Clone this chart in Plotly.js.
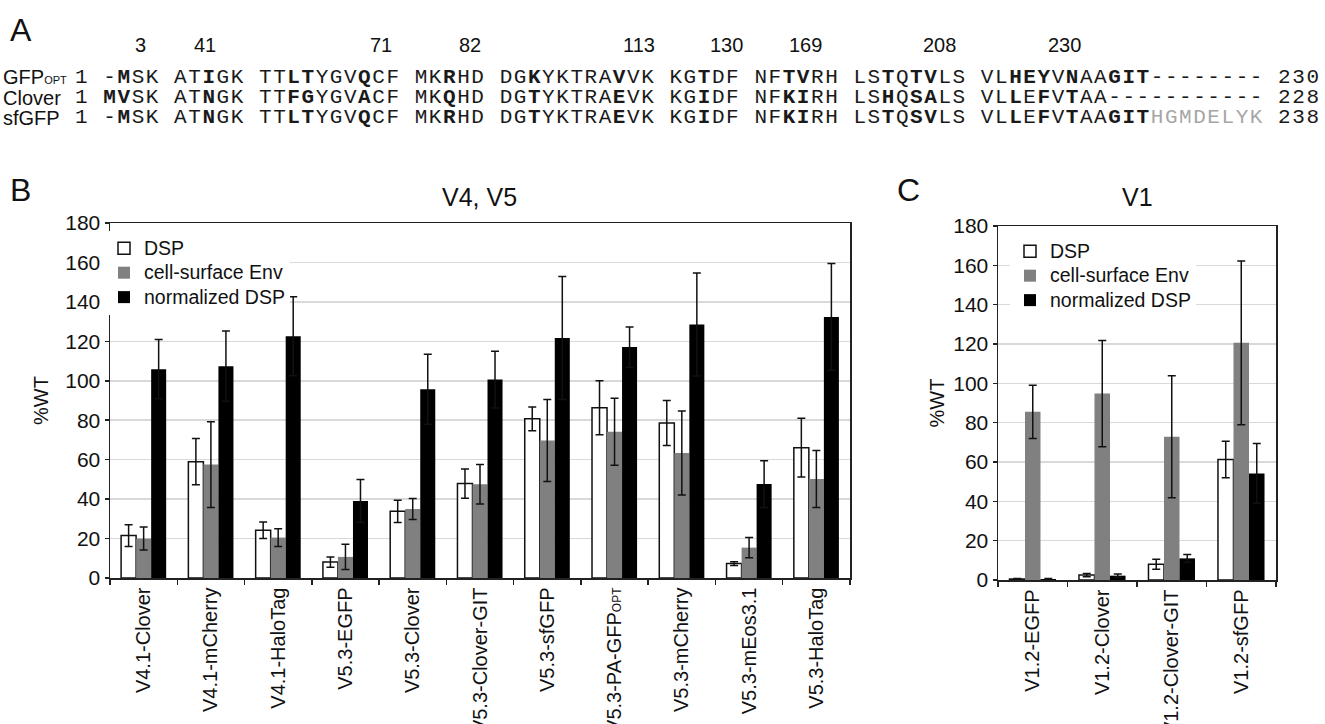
<!DOCTYPE html>
<html>
<head>
<meta charset="utf-8">
<script src="https://cdn.plot.ly/plotly-3.0.1.min.js"></script>
<style>
html,body{margin:0;padding:0;background:#fff;}
#chart{width:1325px;height:724px;}
/* monospace alignment rows: widen the advance to match the reference column pitch */
text[style*="Mono"]{letter-spacing:1.55px;}
</style>
</head>
<body>
<div id="chart"></div>
<script>
// ---------- Panel A: sequence alignment ----------
const seqNames = ['GFP<span style="font-size:11px">OPT</span>', 'Clover', 'sfGFP'];
const seqStarts = ['1', '1', '1'];
const seqTexts = [
  '-<b>M</b>SK AT<b>I</b>GK TT<b>LT</b>YGV<b>Q</b>CF MK<b>R</b>HD DG<b>K</b>YKTRA<b>V</b>VK KG<b>T</b>DF NF<b>TV</b>RH LS<b>T</b>Q<b>TV</b>LS VL<b>HEY</b>V<b>N</b>AA<b>GIT</b>--------',
  '<b>MV</b>SK AT<b>N</b>GK TT<b>FG</b>YGV<b>A</b>CF MK<b>Q</b>HD DG<b>T</b>YKTRA<b>E</b>VK KG<b>I</b>DF NF<b>KI</b>RH LS<b>H</b>Q<b>SA</b>LS VL<b>L</b>E<b>F</b>V<b>T</b>AA-----------',
  '-<b>M</b>SK AT<b>N</b>GK TT<b>LT</b>YGV<b>Q</b>CF MK<b>R</b>HD DG<b>T</b>YKTRA<b>E</b>VK KG<b>I</b>DF NF<b>KI</b>RH LS<b>T</b>Q<b>SV</b>LS VL<b>L</b>E<b>F</b>V<b>T</b>AA<b>GIT</b><span style="color:#a6a6a6">HGMDELYK</span>'
];
const seqEnds = ['230', '228', '238'];
const residueLabels = ['3', '41', '71', '82', '113', '130', '169', '208', '230'];
const residueLabelX = [140, 205, 381, 470, 639, 726, 806, 940, 1064];

// ---------- Panel B: V4, V5 ----------
const categoriesB = ['V4.1-Clover', 'V4.1-mCherry', 'V4.1-HaloTag', 'V5.3-EGFP', 'V5.3-Clover',
  'V5.3-Clover-GIT', 'V5.3-sfGFP', 'V5.3-PA-GFP<span style="font-size:12px">OPT</span>', 'V5.3-mCherry',
  'V5.3-mEos3.1', 'V5.3-HaloTag'];
const dspB = [21.5, 59, 24.2, 8.1, 33.8, 47.9, 80.7, 86.3, 78.6, 7.3, 66.1];
const dspErrB = [5.5, 11.7, 4.2, 2.6, 5.6, 7.4, 6, 13.7, 11.4, 1, 14.9];
const envB = [20, 57.5, 20.5, 10.7, 35, 47.5, 69.7, 74.2, 63.4, 15.4, 50.2];
const envErrB = [5.8, 21.7, 4.5, 6.4, 5.3, 10, 20.8, 17, 21.3, 5.1, 14.4];
const normB = [105.9, 107.4, 122.6, 39.1, 95.7, 100.6, 121.7, 117.1, 128.5, 47.6, 132.4];
const normErrB = [15, 17.8, 20, 10.8, 17.8, 14.4, 31.2, 10.2, 26.1, 11.9, 27.1];

// ---------- Panel C: V1 ----------
const categoriesC = ['V1.2-EGFP', 'V1.2-Clover', 'V1.2-Clover-GIT', 'V1.2-sfGFP'];
const dspC = [0.5, 2.5, 8, 61.3];
const dspErrC = [0.2, 0.8, 2.5, 9.3];
const envC = [85.5, 94.8, 72.8, 120.6];
const envErrC = [13.5, 27, 31, 41.6];
const normC = [0.5, 2.2, 11, 54.2];
const normErrC = [0.3, 0.8, 2, 15.2];

const seriesNames = ['DSP', 'cell-surface Env', 'normalized DSP'];

// ---------- build ----------
const W = 1325, H = 724;
const px = x => x / W;
const py = y => 1 - y / H;
const FONT = 'Liberation Sans, Arial, sans-serif';
const MONO = 'Liberation Mono, Courier New, monospace';
const legName = s => '<span style="font-size:19.5px">' + s + '</span>';

function errObj(arr) {
  return {type: 'data', array: arr, visible: true, color: '#111', thickness: 1.5, width: 4};
}
function makeTraces(cats, d, de, e, ee, n, ne, xa, ya, leg) {
  return [
    {type: 'bar', name: legName(seriesNames[0]), x: cats, y: d, error_y: errObj(de), xaxis: xa, yaxis: ya, legend: leg,
     marker: {color: '#ffffff', line: {color: '#111', width: 1.5}}},
    {type: 'bar', name: legName(seriesNames[1]), x: cats, y: e, error_y: errObj(ee), xaxis: xa, yaxis: ya, legend: leg,
     marker: {color: '#808080', line: {color: '#808080', width: 0}}},
    {type: 'bar', name: legName(seriesNames[2]), x: cats, y: n, error_y: errObj(ne), xaxis: xa, yaxis: ya, legend: leg,
     marker: {color: '#000000', line: {color: '#000', width: 0}}}
  ];
}

const data = [
  ...makeTraces(categoriesB, dspB, dspErrB, envB, envErrB, normB, normErrB, 'x', 'y', 'legend'),
  ...makeTraces(categoriesC, dspC, dspErrC, envC, envErrC, normC, normErrC, 'x2', 'y2', 'legend2')
];

const xaxisBase = {
  type: 'category', showline: true, mirror: true, linecolor: '#222', linewidth: 1.5,
  ticks: 'outside', tickson: 'boundaries', ticklen: 5, tickcolor: '#222', tickwidth: 1.5,
  tickangle: -90, tickfont: {family: FONT, size: 20, color: '#111'}, showgrid: false,
  fixedrange: true
};
const yaxisBase = {
  range: [0, 180], dtick: 20, showline: true, mirror: true, linecolor: '#222', linewidth: 1.5,
  ticks: 'outside', ticklen: 4, tickcolor: '#222', tickwidth: 1.5,
  tickfont: {family: FONT, size: 21, color: '#111'}, showgrid: true, gridcolor: '#d9d9d9', gridwidth: 1.5,
  zeroline: false, fixedrange: true
};

const annotations = [];
// panel letters
annotations.push({text: 'A', x: px(8), y: py(30), xref: 'paper', yref: 'paper', xanchor: 'left', yanchor: 'middle', showarrow: false, font: {family: FONT, size: 32, color: '#111'}});
annotations.push({text: 'B', x: px(8), y: py(190), xref: 'paper', yref: 'paper', xanchor: 'left', yanchor: 'middle', showarrow: false, font: {family: FONT, size: 32, color: '#111'}});
annotations.push({text: 'C', x: px(895), y: py(190), xref: 'paper', yref: 'paper', xanchor: 'left', yanchor: 'middle', showarrow: false, font: {family: FONT, size: 32, color: '#111'}});
// panel titles
annotations.push({text: 'V4, V5', x: px(480), y: py(197), xref: 'paper', yref: 'paper', xanchor: 'center', yanchor: 'middle', showarrow: false, font: {family: FONT, size: 25, color: '#111'}});
annotations.push({text: 'V1', x: px(1137), y: py(197), xref: 'paper', yref: 'paper', xanchor: 'center', yanchor: 'middle', showarrow: false, font: {family: FONT, size: 25, color: '#111'}});
// residue numbers
residueLabels.forEach((t, i) => {
  annotations.push({text: t, x: px(residueLabelX[i]), y: py(45), xref: 'paper', yref: 'paper', xanchor: 'center', yanchor: 'middle', showarrow: false, font: {family: FONT, size: 20, color: '#111'}});
});
// sequence rows
const rowY = [77, 97.5, 118];
const SEQX = 73;
seqNames.forEach((nm, i) => {
  annotations.push({text: nm, x: px(1), y: py(rowY[i]), xref: 'paper', yref: 'paper', xanchor: 'left', yanchor: 'middle', showarrow: false, font: {family: FONT, size: 20, color: '#111'}});
  annotations.push({text: seqStarts[i] + ' ' + seqTexts[i] + ' ' + seqEnds[i], x: px(SEQX), y: py(rowY[i]), xref: 'paper', yref: 'paper', xanchor: 'left', yanchor: 'middle', showarrow: false, font: {family: MONO, size: 21, color: '#1a1a1a'}});
});

const layout = {
  width: W, height: H,
  margin: {l: 0, r: 0, t: 0, b: 0, autoexpand: false},
  paper_bgcolor: '#ffffff', plot_bgcolor: '#ffffff',
  barmode: 'group', bargap: 0.33, bargroupgap: 0,
  font: {family: FONT, color: '#111'},
  xaxis: Object.assign({}, xaxisBase, {domain: [px(110), px(850)], anchor: 'y', automargin: false}),
  yaxis: Object.assign({}, yaxisBase, {domain: [1 - 578 / H, 1 - 223 / H], anchor: 'x', automargin: false,
    title: {text: '%WT', font: {family: FONT, size: 20, color: '#111'}, standoff: 11}}),
  xaxis2: Object.assign({}, xaxisBase, {domain: [px(998), px(1276)], anchor: 'y2', automargin: false}),
  yaxis2: Object.assign({}, yaxisBase, {domain: [1 - 580 / H, 1 - 226 / H], anchor: 'x2', automargin: false,
    title: {text: '%WT', font: {family: FONT, size: 20, color: '#111'}, standoff: 3}}),
  legend: {x: px(104), y: py(231), xanchor: 'left', yanchor: 'top', bgcolor: '#ffffff', borderwidth: 0,
    font: {family: FONT, size: 16.5, color: '#111'}, tracegroupgap: 0, itemwidth: 30},
  legend2: {x: px(1010), y: py(234), xanchor: 'left', yanchor: 'top', bgcolor: '#ffffff', borderwidth: 0,
    font: {family: FONT, size: 16.5, color: '#111'}, tracegroupgap: 0, itemwidth: 30},
  annotations: annotations,
  showlegend: true
};

Plotly.newPlot('chart', data, layout, {displayModeBar: false, staticPlot: true});
</script>
</body>
</html>
